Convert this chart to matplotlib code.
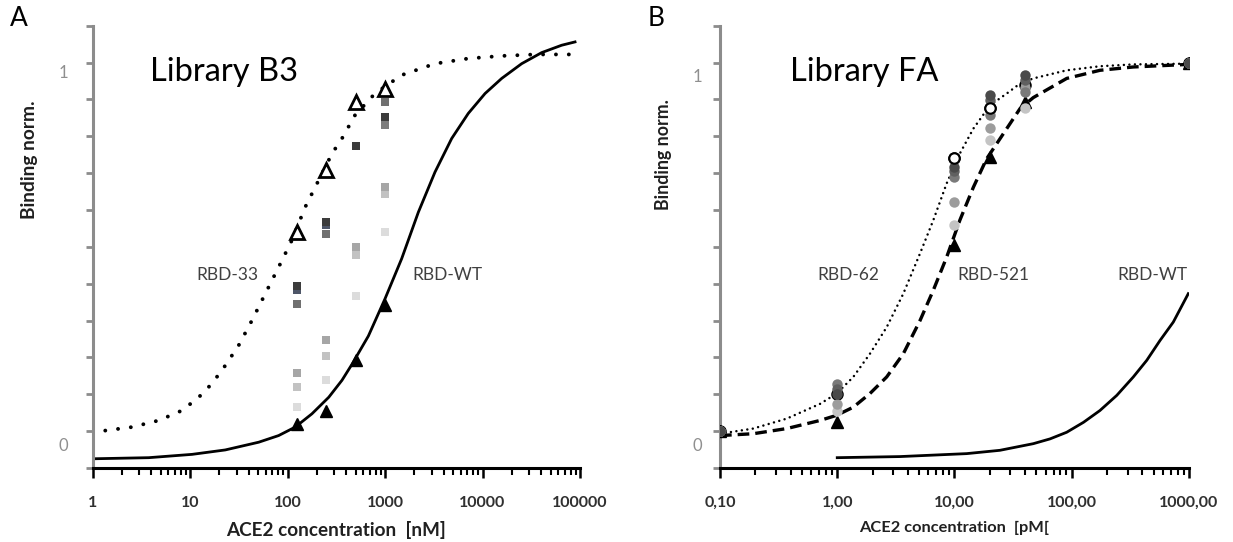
import numpy as np
import matplotlib
matplotlib.use("Agg")
import matplotlib.pyplot as plt
from matplotlib.transforms import blended_transform_factory
from matplotlib.ticker import LogLocator, NullFormatter

# ---------------- Panel A data (Library B3) ----------------
conc_A = [125, 250, 500, 1000]                      # nM
rbd33_A = [0.540, 0.708, 0.893, 0.927]              # open triangles
rbdwt_A = [0.020, 0.056, 0.192, 0.341]              # filled triangles
var_A = [
    [0.395, 0.567, 0.773, 0.852],
    [0.382, 0.558, 0.773, 0.852],
    [0.346, 0.536, 0.773, 0.893],
    [0.346, 0.536, 0.773, 0.830],
    [0.157, 0.246, 0.499, 0.662],
    [0.119, 0.203, 0.477, 0.643],
    [0.065, 0.140, 0.366, 0.540],
]
var_A_colors = ['#3c3c3c', '#4e5668', '#707070', '#7c7c7c', '#a6a6a6', '#c2c2c2', '#dcdcdc']

fit33_x = [1, 2.54, 4.78, 8.28, 12.3, 16.8, 23.0, 31.6, 43.3, 59.2, 81.1, 111, 152, 209, 286,
           362, 492, 789, 1483, 3258, 7145, 15740, 34510, 96160]
fit33_y = [-0.003, 0.011, 0.029, 0.056, 0.092, 0.129, 0.178, 0.233, 0.301, 0.373, 0.445, 0.518,
           0.608, 0.681, 0.753, 0.794, 0.857, 0.916, 0.966, 0.997, 1.011, 1.018, 1.022, 1.022]
fitwtA_x = [1, 3.77, 10.5, 23.0, 50.7, 81.1, 120, 178, 265, 362, 455, 675, 1000, 1483, 2198,
            3258, 4831, 7145, 10620, 15740, 25230, 40460, 64860, 88920]
fitwtA_y = [-0.075, -0.072, -0.063, -0.051, -0.030, -0.012, 0.011, 0.047, 0.092, 0.138, 0.180,
            0.258, 0.359, 0.468, 0.594, 0.703, 0.794, 0.862, 0.916, 0.957, 0.997, 1.027, 1.047, 1.056]

xticks_A = [1, 10, 100, 1000, 10000, 100000]
xticklabels_A = ['1', '10', '100', '1000', '10000', '100000']

# ---------------- Panel B data (Library FA) ----------------
conc_B = [0.1, 1, 10, 20, 40, 1000]                 # pM
rbd62_B = [0.0, 0.100, 0.741, 0.877, 0.940, 1.0]    # open circles
rbd521_B = [0.0, 0.024, 0.504, 0.744, 0.893, 1.0]   # filled triangles
var_B = [
    [0.0, 0.102, 0.717, 0.911, 0.967, 1.0],
    [0.0, 0.115, 0.705, 0.898, 0.952, 1.0],
    [0.0, 0.129, 0.690, 0.857, 0.920, 1.0],
    [0.0, 0.074, 0.623, 0.822, 0.930, 1.0],
    [0.0, 0.056, 0.558, 0.789, 0.878, 1.0],
]
var_B_colors = ['#4a4a4a', '#606060', '#7a7a7a', '#9c9c9c', '#c4c4c4']

fit62_x = [0.1, 0.192, 0.371, 0.713, 0.989, 1.37, 1.90, 2.64, 3.66, 5.08, 6.59, 8.57, 11.1, 14.5,
           20.1, 27.9, 36.2, 47.0, 90.6, 174, 335, 986]
fit62_y = [-0.007, 0.007, 0.034, 0.074, 0.102, 0.147, 0.210, 0.282, 0.373, 0.482, 0.572, 0.672,
           0.753, 0.821, 0.884, 0.916, 0.943, 0.957, 0.979, 0.990, 0.995, 0.997]
fit521_x = [0.1, 0.192, 0.371, 0.713, 0.989, 1.37, 1.90, 2.64, 3.66, 5.08, 6.59, 8.57, 11.1, 14.5,
            18.8, 26.1, 36.2, 47.0, 90.6, 174, 335, 986]
fit521_y = [-0.012, -0.007, 0.007, 0.029, 0.043, 0.065, 0.102, 0.147, 0.210, 0.300, 0.382, 0.472,
            0.572, 0.662, 0.739, 0.807, 0.875, 0.905, 0.957, 0.979, 0.988, 0.995]
fitwtB_x = [1.0, 3.43, 12.7, 24.4, 47.0, 65.3, 90.6, 126, 174, 242, 335, 436, 566, 735, 986]
fitwtB_y = [-0.072, -0.069, -0.061, -0.052, -0.034, -0.021, -0.003, 0.024, 0.056, 0.097, 0.147,
            0.192, 0.246, 0.296, 0.373]

xticks_B = [0.1, 1, 10, 100, 1000]
xticklabels_B = ['0,10', '1,00', '10,00', '100,00', '1000,00']

# ---------------- Figure ----------------
W, H = 1233, 542
fig = plt.figure(figsize=(W / 100, H / 100), dpi=100)

TXT = ['Lato', 'DejaVu Sans']
AX_GRAY = '#8c8c8c'


def px_ax(left, right, top, bottom):
    return fig.add_axes([left / W, 1 - bottom / H, (right - left) / W, (bottom - top) / H])


axA = px_ax(92.5, 580, 25.7, 468)
axB = px_ax(720, 1189, 25.7, 468)


def style(ax, xlim, xticks, xlabels, xlabel, xlabel_size, ylab_x_px, one_y):
    ax.set_xscale('log')
    for s in ['top', 'right']:
        ax.spines[s].set_visible(False)
    ax.spines['left'].set_color(AX_GRAY)
    ax.spines['left'].set_linewidth(2.2)
    ax.spines['bottom'].set_color('black')
    ax.spines['bottom'].set_linewidth(2.2)
    ax.set_yticks(np.arange(-0.1, 1.1001, 0.1))
    ax.set_yticklabels([])
    ax.tick_params(axis='y', direction='out', length=5, width=2, color=AX_GRAY)
    ax.set_xticks(xticks)
    ax.set_xticklabels(xlabels, fontfamily=TXT, fontweight='bold', fontsize=11.5, color='#303030')
    ax.xaxis.set_minor_locator(LogLocator(base=10, subs=np.arange(2, 10), numticks=20))
    ax.xaxis.set_minor_formatter(NullFormatter())
    ax.tick_params(axis='x', which='major', direction='out', length=7, width=1.8, color='black', pad=13)
    ax.tick_params(axis='x', which='minor', direction='out', length=5, width=1.5, color='black')
    ax.set_xlim(*xlim)
    ax.set_ylim(-0.1, 1.1)
    ax.set_xlabel(xlabel, fontfamily=TXT, fontweight='bold', fontsize=xlabel_size, color='#202020',
                  labelpad=8)
    tr = blended_transform_factory(ax.transAxes, ax.transData)
    ax.text(-ylab_x_px / ax.bbox.width, one_y, '1', transform=tr, ha='center', va='center',
            fontfamily=TXT, fontsize=12, color='#8f8f8f')
    ax.text(-ylab_x_px / ax.bbox.width, -0.039, '0', transform=tr, ha='center', va='center',
            fontfamily=TXT, fontsize=12, color='#8f8f8f')
    ax.patch.set_alpha(0)


style(axA, (1, 1e5), xticks_A, xticklabels_A, 'ACE2 concentration  [nM]', 13.6, 29.5, 0.971)
style(axB, (0.1, 1000), xticks_B, xticklabels_B, 'ACE2 concentration  [pM[', 11.8, 23, 0.960)

# ---- Panel A marks ----
axA.plot(fit33_x, fit33_y, color='black', lw=2.8, linestyle=(0, (0.01, 3.3)),
         dash_capstyle='round', zorder=2)
axA.plot(fitwtA_x, fitwtA_y, color='black', lw=2.0, zorder=2)
for vals, c in reversed(list(zip(var_A, var_A_colors))):
    axA.plot(conc_A, vals, linestyle='none', marker='s', markersize=6, color=c,
             markeredgewidth=0, zorder=3)
axA.plot(conc_A, rbdwt_A, linestyle='none', marker='^', markersize=8, color='black', zorder=4)
axA.plot(conc_A, rbd33_A, linestyle='none', marker='^', markersize=10.5, markerfacecolor='white',
         markeredgecolor='black', markeredgewidth=2.0, zorder=4)

axA.text(3.89, 0.974, 'Library B3', fontfamily=TXT, fontsize=23.5, ha='left', va='center', color='black')
axA.text(24, 0.423, 'RBD-33', fontfamily=TXT, fontsize=12.5, ha='center', va='center', color='#404040')
axA.text(4325, 0.423, 'RBD-WT', fontfamily=TXT, fontsize=12.5, ha='center', va='center', color='#404040')

# ---- Panel B marks ----
axB.plot(fit62_x, fit62_y, color='black', lw=1.8, linestyle=(0, (0.01, 2.2)),
         dash_capstyle='round', zorder=2)
axB.plot(fit521_x, fit521_y, color='black', lw=2.4, linestyle=(0, (3.5, 1.8)), zorder=2)
axB.plot(fitwtB_x, fitwtB_y, color='black', lw=2.0, zorder=2)
axB.plot(conc_B, rbd521_B, linestyle='none', marker='^', markersize=8, color='black', zorder=3)
axB.plot(conc_B, rbd62_B, linestyle='none', marker='o', markersize=7.5, markerfacecolor='white',
         markeredgecolor='black', markeredgewidth=1.5, zorder=3)
for vals, c in reversed(list(zip(var_B, var_B_colors))):
    axB.plot(conc_B, vals, linestyle='none', marker='o', markersize=7.5, color=c,
             markeredgewidth=0, zorder=4)
axB.plot(conc_B[2:4], rbd62_B[2:4], linestyle='none', marker='o', markersize=7.5,
         markerfacecolor='white', markeredgecolor='black', markeredgewidth=1.5, zorder=5)

axB.text(0.396, 0.974, 'Library FA', fontfamily=TXT, fontsize=23.5, ha='left', va='center', color='black')
axB.text(1.24, 0.423, 'RBD-62', fontfamily=TXT, fontsize=12.5, ha='center', va='center', color='#404040')
axB.text(21.3, 0.423, 'RBD-521', fontfamily=TXT, fontsize=12.5, ha='center', va='center', color='#404040')
axB.text(483, 0.423, 'RBD-WT', fontfamily=TXT, fontsize=12.5, ha='center', va='center', color='#404040')

# ---- y labels & panel letters ----
fig.text(30 / W, 1 - 160 / H, 'Binding norm.', rotation=90, ha='center', va='center',
         fontfamily=TXT, fontweight='bold', fontsize=13.8, color='#202020')
fig.text(663 / W, 1 - 155 / H, 'Binding norm.', rotation=90, ha='center', va='center',
         fontfamily=TXT, fontweight='bold', fontsize=12.8, color='#202020')
fig.text(19 / W, 1 - 18 / H, 'A', ha='center', va='center', fontfamily=TXT, fontsize=19, color='black')
fig.text(656 / W, 1 - 18 / H, 'B', ha='center', va='center', fontfamily=TXT, fontsize=19, color='black')

fig.savefig('out.png', dpi=100)
